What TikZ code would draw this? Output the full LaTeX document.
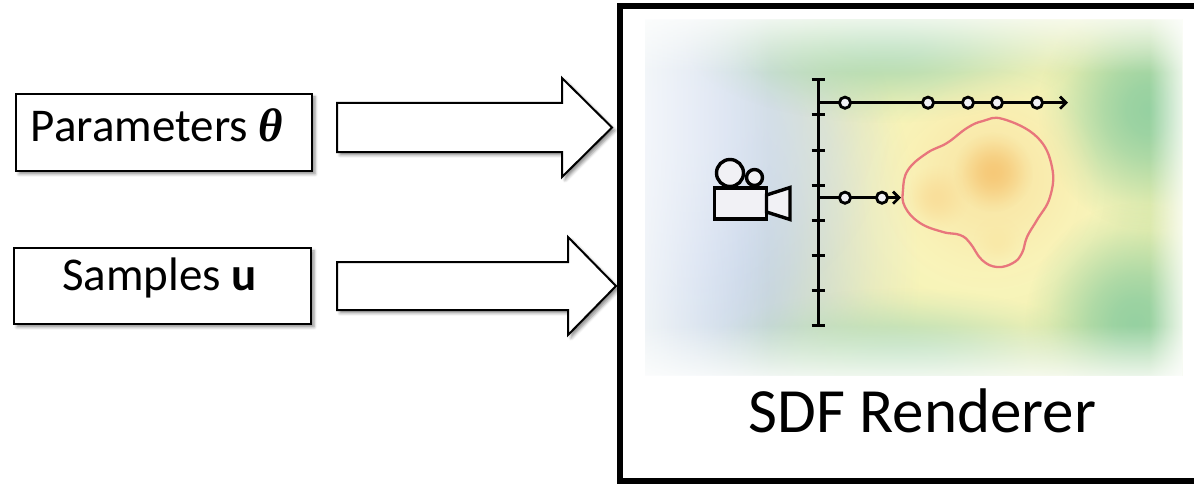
\documentclass[tikz,border=0pt]{standalone}
\usepackage{fontspec}
\setmainfont{Carlito}
\newfontfamily\thetafont{Liberation Serif}
\usetikzlibrary{arrows.meta,fadings,shadows.blur}

% soft radial glow used for the smooth colour field
\pgfdeclareradialshading{glowshade}{\pgfpointorigin}{%
  color(0bp)=(pgftransparent!0); color(5bp)=(pgftransparent!8);
  color(10bp)=(pgftransparent!28); color(15bp)=(pgftransparent!55);
  color(20bp)=(pgftransparent!82); color(25bp)=(pgftransparent!100);
  color(50bp)=(pgftransparent!100)}
\pgfdeclarefading{glow}{\pgfuseshading{glowshade}}
\tikzfading[name=fade to right, left color=transparent!0, right color=transparent!100]
\tikzfading[name=fade to left, left color=transparent!100, right color=transparent!0]
\tikzfading[name=fade to bottom, top color=transparent!0, bottom color=transparent!100]
\tikzfading[name=fade to top, top color=transparent!100, bottom color=transparent!0]

\definecolor{fieldbase}{HTML}{C6E3C4}
\definecolor{fieldblue}{HTML}{C3D2EB}
\definecolor{fieldgreen}{HTML}{96D1A1}
\definecolor{fieldlime}{HTML}{E2ECA2}
\definecolor{fieldyellow}{HTML}{FBF6BD}
\definecolor{fieldorange}{HTML}{F6C978}
\definecolor{camfill}{HTML}{F1F1F5}
\definecolor{surf}{HTML}{E8767C}

\tikzset{
  softshadow/.style={blur shadow={shadow xshift=3pt, shadow yshift=-3pt,
      shadow blur radius=3pt, shadow opacity=45}},
  inputbox/.style={draw, line width=2pt, fill=white, inner sep=0pt, softshadow},
  inputlabel/.style={font=\fontsize{47}{56}\selectfont, anchor=base, inner sep=0pt},
  blockarrow/.style={draw, line width=2pt, fill=white, line join=miter, softshadow},
  frame/.style={draw, line width=6pt, inner sep=0pt},
  cam/.style={draw, line width=3.4pt, fill=camfill, line join=miter},
  rulerline/.style={line width=3pt},
  ray/.style={line width=2.9pt, -{Straight Barb[length=6pt,width=12pt,line width=2.8pt]}},
  sample/.style={circle, draw, line width=2.8pt, fill=camfill, minimum size=11.2pt, inner sep=0pt},
  surface/.style={draw=surf, line width=2.3pt},
}

% wide arrow: start, shaft half height, shaft length, head half height, head length
\newcommand\blockarrow[5]{%
  \draw[blockarrow] (#1) ++(0,#2) -- ++(#3,0) -- ++(0,#4-#2) -- ++(#5,-#4)
    -- ++(-#5,-#4) -- ++(0,#4-#2) -- ++(-#3,0) -- cycle;}

\begin{document}
\begin{tikzpicture}[x=1pt,y=1pt]
\useasboundingbox (0,0) rectangle (1194,483);

% ---------- input boxes ----------
\node[inputbox, minimum width=296pt, minimum height=77pt] (params) at (164,350.5) {};
\node[inputlabel] (paramstxt) at (157,341.3) {Parameters {\thetafont\bfseries\itshape θ}};
\node[inputbox, minimum width=297pt, minimum height=76pt] (samples) at (162.5,197) {};
\node[inputlabel] (samplestxt) at (159.5,193) {Samples \textbf{u}};

% ---------- wide arrows into the renderer ----------
\coordinate (a1) at (337,355.5);
\coordinate (a2) at (337,197);
\blockarrow{a1}{24.5}{225}{49.5}{50}
\blockarrow{a2}{24}{231}{49}{48}

% ---------- colour field of the distance function ----------
\begin{scope}
\clip (645,108) rectangle (1182,463);
\fill[fieldbase] (645,108) rectangle (1182,463);
\fill[fieldlime, path fading=glow] (985,278) ellipse [x radius=440, y radius=380];
\fill[fieldlime, path fading=glow] (985,280) ellipse [x radius=360, y radius=310];
\fill[fieldyellow, path fading=glow] (982,285) ellipse [x radius=300, y radius=260];
\fill[fieldyellow, path fading=glow] (985,290) ellipse [x radius=210, y radius=190];
\fill[fieldblue, path fading=glow] (700,230) ellipse [x radius=220, y radius=320];
\fill[fieldblue!70!white, path fading=glow] (690,360) ellipse [x radius=200, y radius=200];
\fill[fieldgreen, path fading=glow] (1148,373) ellipse [x radius=110, y radius=120];
\fill[fieldgreen, path fading=glow] (1135,160) ellipse [x radius=110, y radius=120];
\fill[fieldgreen!50!fieldbase, path fading=glow] (885,440) ellipse [x radius=200, y radius=80];
\fill[fieldgreen!35!fieldbase, path fading=glow] (900,125) ellipse [x radius=200, y radius=70];
\fill[fieldorange!35!fieldyellow, path fading=glow] (990,305) ellipse [radius=110];
\fill[fieldorange, path fading=glow] (993,311) ellipse [radius=40];
\fill[fieldorange!50!fieldyellow, path fading=glow] (937,286) ellipse [radius=32];
\fill[fieldorange!30!fieldyellow, path fading=glow] (997,243) ellipse [radius=24];
% soft white borders
\fill[white, path fading=fade to right] (600,100) rectangle (770,470);
\fill[white, path fading=fade to left] (1149,100) rectangle (1193,470);
\fill[white, path fading=fade to bottom] (640,410) rectangle (1190,483);
\fill[white, path fading=fade to top] (640,92) rectangle (1190,158);
\end{scope}

% ---------- surface (zero level set) ----------
\draw[surface] plot[smooth cycle, tension=0.7] coordinates {
  (1003,364) (1037,346) (1052,316) (1050,286) (1037,263) (1027,246)
  (1022,230) (1013,220) (997,216) (982,223) (970,240) (960,248)
  (943,251) (920,260) (905,276) (903,293) (908,313) (927,330)
  (947,340) (967,355) (983,362)};

% ---------- camera ----------
\draw[cam] (730,310) circle (13.5);
\draw[cam] (754.5,305.5) circle (8);
\draw[cam] (714.5,295.2) rectangle (766.5,264);
\draw[cam] (766.5,288) -- (790,295.5) -- (790,263.5) -- (766.5,271) -- cycle;

% ---------- image plane with pixel ticks ----------
\coordinate (rtop) at (818,403);
\coordinate (rbot) at (818,157);
\draw[rulerline] (rtop) -- (rbot);
\foreach \k in {0,...,7}
  \draw[rulerline] (811.5,{403-35*\k}) -- (824.5,{403-35*\k});

% ---------- rays with samples ----------
\coordinate (r1s) at (818,380.3);
\coordinate (r1e) at (1068,380.3);
\coordinate (r2s) at (818,285.3);
\coordinate (r2e) at (901,285.3);
\draw[ray] (r1s) -- (r1e);
\draw[ray] (r2s) -- (r2e);
\foreach \x [count=\i] in {845,928,968,997,1037}
  \node[sample] (p\i) at (\x,380.3) {};
\node[sample] (q1) at (845,285.3) {};
\node[sample] (q2) at (882,285.3) {};

% ---------- renderer frame and title ----------
\node[frame, minimum width=577pt, minimum height=474.7pt] (renderer) at (908.5,239.35) {};
\node[font=\fontsize{63}{75}\selectfont, anchor=base, inner sep=0pt] (title) at (922.5,51) {SDF Renderer};
\end{tikzpicture}
\end{document}
